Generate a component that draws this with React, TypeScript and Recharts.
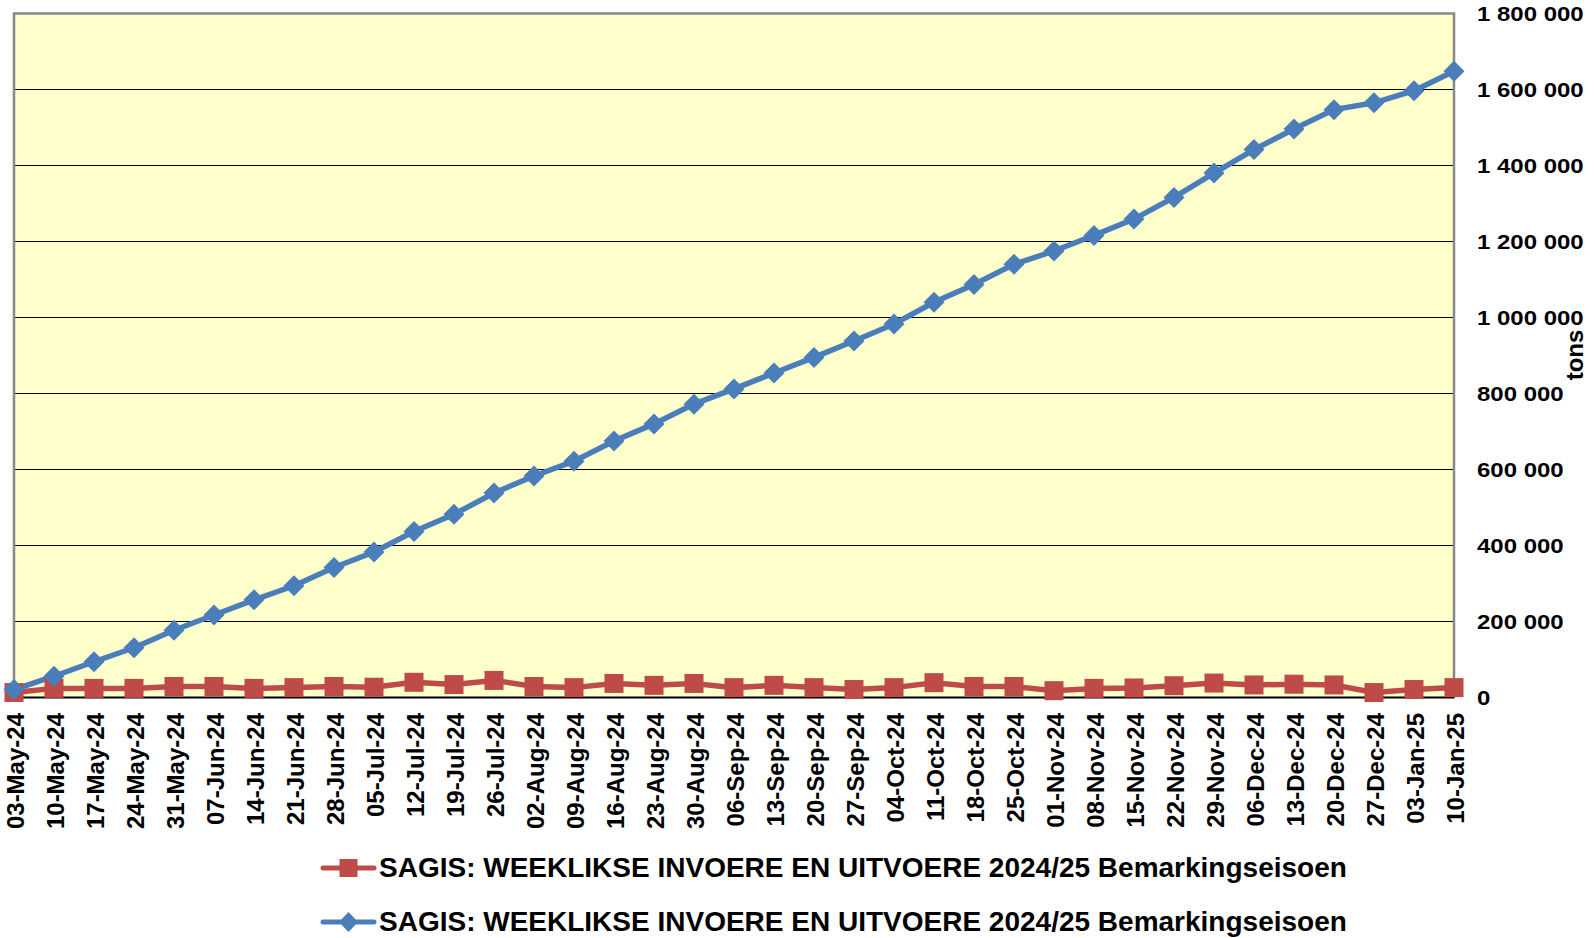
import { CartesianGrid, Line, LineChart, ReferenceArea, XAxis, YAxis } from 'recharts'

const dates = [
  '03-May-24', '10-May-24', '17-May-24', '24-May-24', '31-May-24', '07-Jun-24', '14-Jun-24',
  '21-Jun-24', '28-Jun-24', '05-Jul-24', '12-Jul-24', '19-Jul-24', '26-Jul-24', '02-Aug-24',
  '09-Aug-24', '16-Aug-24', '23-Aug-24', '30-Aug-24', '06-Sep-24', '13-Sep-24', '20-Sep-24',
  '27-Sep-24', '04-Oct-24', '11-Oct-24', '18-Oct-24', '25-Oct-24', '01-Nov-24', '08-Nov-24',
  '15-Nov-24', '22-Nov-24', '29-Nov-24', '06-Dec-24', '13-Dec-24', '20-Dec-24', '27-Dec-24',
  '03-Jan-25', '10-Jan-25',
]

// weekly tons (red squares)
const weekly = [
  13000, 24000, 24000, 24000, 29000, 29000, 24000, 26000, 29000, 27000, 40000, 34000, 45000,
  29000, 26000, 37000, 32000, 37000, 26000, 32000, 26000, 21000, 26000, 39000, 29000, 29000,
  18000, 24000, 25000, 31000, 38000, 33000, 35000, 33000, 13000, 21000, 26000,
]

// cumulative tons (blue diamonds)
const cumulative = [
  21000, 56000, 94000, 131000, 177000, 217000, 257000, 294000, 342000, 383000, 437000, 482000,
  538000, 583000, 622000, 675000, 720000, 772000, 812000, 854000, 895000, 938000, 983000,
  1040000, 1087000, 1140000, 1175000, 1216000, 1259000, 1316000, 1380000, 1442000, 1496000,
  1547000, 1565000, 1597000, 1648000,
]

const yTicks = [0, 200000, 400000, 600000, 800000, 1000000, 1200000, 1400000, 1600000, 1800000]

const seriesName = 'SAGIS: WEEKLIKSE INVOERE EN UITVOERE 2024/25 Bemarkingseisoen'

const RED = '#BE4B48'
const BLUE = '#4A7EBB'
const FONT = '"Liberation Sans", Arial, sans-serif'

const data = dates.map((d, i) => ({ date: d, weekly: weekly[i], cumulative: cumulative[i] }))

const fmt = (v: number) => String(v).replace(/\B(?=(\d{3})+(?!\d))/g, ' ')

function YTick({ y, payload }: any) {
  return (
    <text
      transform={`translate(1477,${y}) scale(1.2,1)`}
      dy="0.36em"
      fontFamily={FONT}
      fontWeight="bold"
      fontSize={20}
      fill="#000"
      textAnchor="start"
    >
      {fmt(payload.value)}
    </text>
  )
}

function XTick({ x, payload }: any) {
  return (
    <text
      transform={`translate(${x + 10},713) rotate(-90)`}
      fontFamily={FONT}
      fontWeight="bold"
      fontSize={24}
      fill="#000"
      textAnchor="end"
    >
      {payload.value}
    </text>
  )
}

function Square({ cx, cy }: any) {
  if (cx == null || cy == null) return null
  return <rect x={cx - 9.5} y={cy - 9.5} width={19} height={19} fill={RED} />
}

function Diamond({ cx, cy }: any) {
  if (cx == null || cy == null) return null
  const r = 10.5
  return <polygon points={`${cx},${cy - r} ${cx + r},${cy} ${cx},${cy + r} ${cx - r},${cy}`} fill={BLUE} />
}

function LegendRow({ top, color, marker }: { top: number; color: string; marker: 'square' | 'diamond' }) {
  return (
    <div style={{ position: 'absolute', left: 318, top, height: 40, display: 'flex', alignItems: 'center' }}>
      <svg width={60} height={40} style={{ display: 'block' }}>
        <line x1={5} y1={20} x2={56} y2={20} stroke={color} strokeWidth={5} strokeLinecap="round" />
        {marker === 'square' ? (
          <rect x={21.5} y={11} width={18} height={18} fill={color} />
        ) : (
          <polygon points="30.5,10 40,20 30.5,30 21,20" fill={color} />
        )}
      </svg>
      <span style={{ fontFamily: FONT, fontWeight: 'bold', fontSize: 28, color: '#000', whiteSpace: 'nowrap', marginLeft: 1 }}>
        {seriesName}
      </span>
    </div>
  )
}

export default function App() {
  return (
    <div style={{ position: 'absolute', left: 0, top: 0, width: 1595, height: 938, background: '#fff' }}>
      <LineChart width={1595} height={938} data={data} margin={{ top: 13.5, right: 0, left: 14, bottom: 110.5 }}>
        <CartesianGrid vertical={false} stroke="#000" strokeWidth={1} fill="#FFFFCC" fillOpacity={1} />
        <ReferenceArea
          x1={dates[0]}
          x2={dates[dates.length - 1]}
          y1={0}
          y2={1800000}
          fill="none"
          stroke="#888"
          strokeWidth={2.5}
          fillOpacity={0}
        />
        <XAxis
          dataKey="date"
          interval={0}
          height={130}
          tick={<XTick />}
          tickLine={false}
          axisLine={{ stroke: '#000', strokeWidth: 1.5 }}
        />
        <YAxis
          orientation="right"
          domain={[0, 1800000]}
          ticks={yTicks}
          width={141}
          tick={<YTick />}
          tickLine={false}
          axisLine={false}
          interval={0}
        />
        <Line
          dataKey="weekly"
          stroke={RED}
          strokeWidth={5.5}
          dot={<Square />}
          activeDot={false}
          isAnimationActive={false}
        />
        <Line
          dataKey="cumulative"
          stroke={BLUE}
          strokeWidth={5.5}
          dot={<Diamond />}
          activeDot={false}
          isAnimationActive={false}
        />
      </LineChart>
      <svg style={{ position: 'absolute', left: 1540, top: 300, overflow: 'visible' }} width={55} height={110}>
        <text
          transform="translate(43,55) rotate(-90)"
          textAnchor="middle"
          fontFamily={FONT}
          fontWeight="bold"
          fontSize={24}
          fill="#000"
        >
          tons
        </text>
      </svg>
      <LegendRow top={848} color={RED} marker="square" />
      <LegendRow top={902} color={BLUE} marker="diamond" />
    </div>
  )
}
